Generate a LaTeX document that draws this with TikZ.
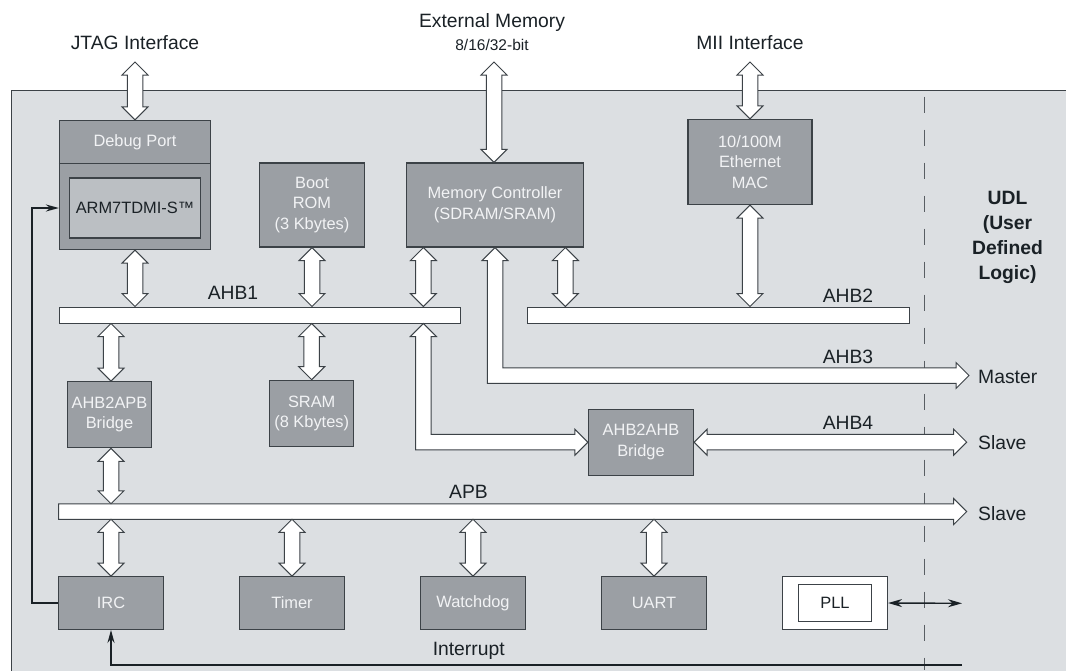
\documentclass[tikz,border=0pt]{standalone}
\usepackage{fontspec}
\setmainfont{Liberation Sans}
\usepackage{tikz}
\usetikzlibrary{arrows.meta,calc}

\definecolor{chipbg}{RGB}{220,223,226}
\definecolor{blockfill}{RGB}{155,159,164}
\definecolor{corefill}{RGB}{187,191,195}
\definecolor{linegray}{RGB}{60,66,71}
\definecolor{ink}{RGB}{26,33,38}
\definecolor{blocktext}{RGB}{242,243,245}

\begin{document}
\begin{tikzpicture}[x=1pt,y=-1pt,
		blockbox/.style={draw=linegray,fill=blockfill,line width=1.2pt,text=blocktext,font=\fontsize{16.4}{20.5}\selectfont,align=center,inner sep=0pt},
		corebox/.style={draw=linegray,fill=corefill,line width=1.2pt,text=ink,font=\fontsize{16.4}{20.5}\selectfont,inner sep=0pt},
		busbar/.style={draw=linegray,fill=white,line width=1pt,minimum height=16pt,inner sep=0pt},
		busarrow/.style={draw=linegray,fill=white,line width=1pt,line join=miter},
		lbl/.style={text=ink,font=\fontsize{19.3}{23}\selectfont,inner sep=0pt},
		sig/.style={draw=ink,line width=2pt},
		sigtip/.style={-{Stealth[length=13pt,width=7pt]}}
		]
		
		\def \arrshaft {7.75pt}
		\def \arrhead {13pt}
		\def \arrlen {13pt}
		
		% vertical block arrow, #1 upper end, #2 lower end
		\def\vbiarrow#1#2{\path[busarrow] let \p1=#1, \p2=#2 in
			(\x1,\y1) -- ++(-\arrhead,-\arrlen) -- ++(\arrhead-\arrshaft,0) -- (\x1-\arrshaft,\y2+\arrlen) -- ++(\arrshaft-\arrhead,0) -- (\x1,\y2)
			-- ++(\arrhead,\arrlen) -- ++(\arrshaft-\arrhead,0) -- (\x1+\arrshaft,\y1-\arrlen) -- ++(\arrhead-\arrshaft,0) -- cycle;}
		% horizontal block arrow, #1 left end, #2 right end
		\def\hbiarrow#1#2{\path[busarrow] let \p1=#1, \p2=#2 in
			(\x1,\y1) -- ++(\arrlen,\arrhead) -- ++(0,\arrshaft-\arrhead) -- (\x2-\arrlen,\y1+\arrshaft) -- ++(0,\arrhead-\arrshaft) -- (\x2,\y1)
			-- ++(-\arrlen,-\arrhead) -- ++(0,\arrhead-\arrshaft) -- (\x1+\arrlen,\y1-\arrshaft) -- ++(0,\arrshaft-\arrhead) -- cycle;}
		% bent block arrow, up at #1, right at #2
		\def\lbiarrow#1#2{\path[busarrow] let \p1=#1, \p2=#2 in
			(\x1,\y1) -- ++(\arrhead,-\arrlen) -- ++(\arrshaft-\arrhead,0) -- (\x1+\arrshaft,\y2+\arrshaft) -- (\x2-\arrlen,\y2+\arrshaft) -- ++(0,\arrhead-\arrshaft) -- (\x2,\y2)
			-- ++(-\arrlen,-\arrhead) -- ++(0,\arrhead-\arrshaft) -- (\x1-\arrshaft,\y2-\arrshaft) -- (\x1-\arrshaft,\y1-\arrlen) -- ++(\arrshaft-\arrhead,0) -- cycle;}
		
		\useasboundingbox (0,0) rectangle (1066,670);
		
		% chip area
		\draw[linegray,fill=chipbg,line width=1.3pt] (11.2,90.7) rectangle (1090,700);
		\draw[linegray!85,line width=1pt,dash pattern=on 16pt off 17pt] (924,96.7) -- (924,670);
		
		% blocks
		\node[blockbox,minimum width=151pt,minimum height=129pt] (debug) at (135,185) {};
		\draw[linegray,line width=1.2pt] ([yshift=-43.3pt]debug.north west) -- ([yshift=-43.3pt]debug.north east);
		\node[blockbox,draw=none,fill=none] (dbgport) at ([yshift=-22pt]debug.north) {Debug Port};
		\node[corebox,minimum width=131pt,minimum height=60pt] (arm) at (135,208) {ARM7TDMI-S™};
		\node[blockbox,minimum width=105pt,minimum height=84pt] (bootrom) at (312,205) {Boot\\ROM\\(3 Kbytes)};
		\node[blockbox,minimum width=177pt,minimum height=84pt] (memctrl) at (495,205) {Memory Controller\\(SDRAM/SRAM)};
		\node[blockbox,minimum width=124pt,minimum height=85pt] (eth) at (750,162) {10/100M\\Ethernet\\MAC};
		
		\node[busbar,minimum width=400.5pt] (ahb1) at (260,315) {};
		\node[busbar,minimum width=381.5pt] (ahb2) at (718.7,315) {};
		
		\node[blockbox,minimum width=84pt,minimum height=66pt] (ahbapb) at (109.5,414.7) {AHB2APB\\Bridge};
		\node[blockbox,minimum width=84pt,minimum height=66pt] (sram) at (311.7,413.3) {SRAM\\(8 Kbytes)};
		\node[blockbox,minimum width=105pt,minimum height=66pt] (bridge) at (641,442.2) {AHB2AHB\\Bridge};
		
		\foreach \nm/\lab [count=\i] in {irc/IRC,timer/Timer,watchdog/Watchdog,uart/UART}
			\node[blockbox,minimum width=105pt,minimum height=52.6pt] (\nm) at ({111+181*(\i-1)},603) {\lab};
		\node[draw=linegray,fill=white,line width=1.2pt,minimum width=105pt,minimum height=52.6pt] (pll) at (835,603) {};
		\node[corebox,fill=white,line width=1pt,minimum width=73.5pt,minimum height=37pt] (pllcore) at (pll) {PLL};
		
		\coordinate (jtagpin) at (135,62);
		\coordinate (mempin) at (494,62);
		\coordinate (miipin) at (750,62);
		\coordinate (mc1) at ($(memctrl.south west)+(17.5,0)$);
		\coordinate (mc2) at ($(memctrl.south east)+(-18.7,0)$);
		\coordinate (master) at (969,375.5);
		\coordinate (slave1) at (966.7,442.2);
		\coordinate (apbw) at (58.5,511.5);
		\coordinate (apbe) at (966.7,511.5);
		\coordinate (pllext) at (962,603.3);
		\coordinate (intsrc) at (962,665);
		
		% buses and block arrows
		\path[busarrow] let \p1=(apbw), \p2=(apbe) in
			(\x1,\y1-\arrshaft) -- (\x2-\arrlen,\y1-\arrshaft) -- ++(0,\arrshaft-\arrhead) -- (\x2,\y1) -- ++(-\arrlen,\arrhead) -- ++(0,\arrshaft-\arrhead) -- (\x1,\y1+\arrshaft) -- cycle;
		
		\vbiarrow{(jtagpin)}{(debug.north)}
		\vbiarrow{(mempin)}{(mempin |- memctrl.north)}
		\vbiarrow{(miipin)}{(eth.north)}
		\vbiarrow{(debug.south)}{(debug.south |- ahb1.north)}
		\vbiarrow{(bootrom.south)}{(bootrom.south |- ahb1.north)}
		\vbiarrow{(mc1)}{(mc1 |- ahb1.north)}
		\vbiarrow{(mc2)}{(mc2 |- ahb2.north)}
		\vbiarrow{(eth.south)}{(eth.south |- ahb2.north)}
		\vbiarrow{(irc.north |- ahb1.south)}{(irc.north |- ahbapb.north)}
		\vbiarrow{(sram.north |- ahb1.south)}{(sram.north)}
		\vbiarrow{(irc.north |- ahbapb.south)}{($(irc.north |- apbw)+(0,-7.75)$)}
		\foreach \nm in {irc,timer,watchdog,uart}
			\vbiarrow{($(\nm.north |- apbw)+(0,7.75)$)}{(\nm.north)};
		\lbiarrow{(memctrl.south)}{(master)}
		\lbiarrow{(mc1 |- ahb1.south)}{(bridge.west)}
		\hbiarrow{(bridge.east)}{(slave1)}
		
		% signals
		\draw[sig,sigtip] (irc.west) -- ++(-26.2,0) |- (debug.west |- arm.center);
		\draw[sig,sigtip] (intsrc) -| (irc.south);
		\draw[sig,line width=1.4pt,{Stealth[length=14pt,width=8pt]}-{Stealth[length=14pt,width=8pt]}] (pll.east) -- (pllext);
		
		% labels
		\node[lbl] (jtag) at (135,43) {JTAG Interface};
		\node[lbl] (extmem) at (492,23) {External Memory};
		\node[lbl,font=\fontsize{15.5}{18}\selectfont] (extwidth) at (492,44.5) {8/16/32-bit};
		\node[lbl] (mii) at (750,43) {MII Interface};
		\node[lbl] (ahb1lbl) at (233,293) {AHB1};
		\node[lbl] (ahb2lbl) at (848,296) {AHB2};
		\node[lbl] (ahb3lbl) at (848,357) {AHB3};
		\node[lbl] (ahb4lbl) at (848,423.3) {AHB4};
		\node[lbl] (apblbl) at (468.5,491.7) {APB};
		\node[lbl] (intlbl) at (468.7,651) {Interrupt};
		\node[lbl,anchor=west] (mastertxt) at (978,376.7) {Master};
		\node[lbl,anchor=west] (slave1txt) at (978,442.3) {Slave};
		\node[lbl,anchor=west] (slave2txt) at (978,513.3) {Slave};
		\node[lbl,font=\bfseries\fontsize{19.3}{25}\selectfont,align=center] (udl) at (1007.5,237.5) {UDL\\(User\\Defined\\Logic)};
\end{tikzpicture}
\end{document}
